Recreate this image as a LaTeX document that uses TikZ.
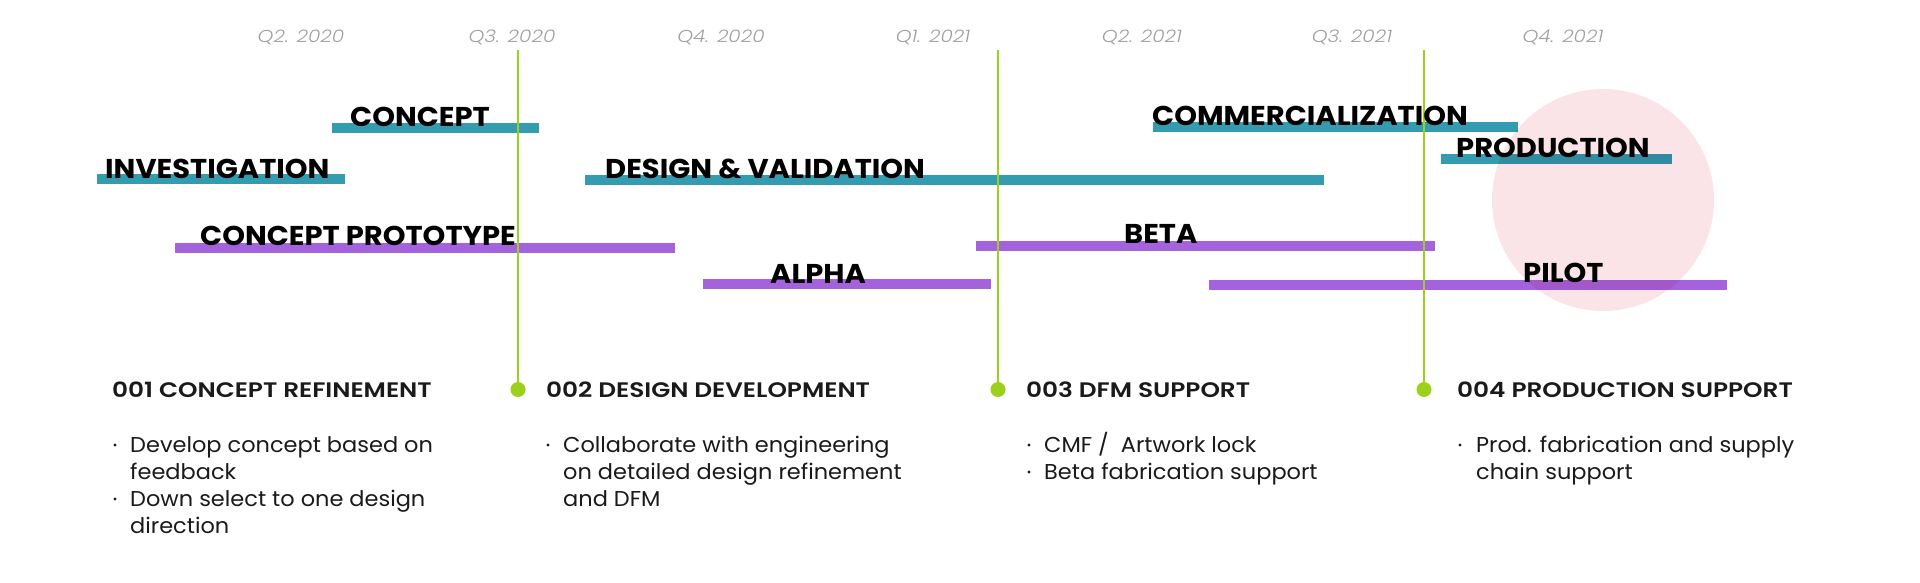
\documentclass[tikz,border=0pt]{standalone}
\usepackage{fontspec}
\setmainfont{Poppins}
\newfontfamily\qfont{Poppins Light Italic}[FakeStretch=1.16]
\newfontfamily\semib{Poppins SemiBold}[FakeStretch=1.18]
\newfontfamily\boldf{Poppins Bold}[FakeStretch=1.065]
\newfontfamily\bodyf{Poppins}[FakeStretch=1.045]
\definecolor{tealbar}{HTML}{339CB0}
\definecolor{purplebar}{HTML}{A463DD}
\definecolor{limeg}{HTML}{9BD11C}
\definecolor{pinkc}{HTML}{FBE4E8}
\definecolor{qgray}{HTML}{A0A0A0}
\definecolor{bodyc}{HTML}{1A1A1A}
\tikzset{
  barA/.style={line width=10pt, draw=tealbar},
  barB/.style={line width=10pt, draw=purplebar},
  barlabel/.style={anchor=base west, inner sep=0pt, font=\boldf\fontsize{27.2}{27}\selectfont, text=black},
  qlabel/.style={anchor=base, inner sep=0pt, font=\qfont\fontsize{17.3}{17}\selectfont, text=qgray},
  mstone/.style={line width=2pt, draw=limeg},
  mdot/.style={circle, fill=limeg, inner sep=0pt, minimum size=15pt},
  head/.style={anchor=base west, inner sep=0pt, font=\semib\fontsize{21}{21}\selectfont, text=bodyc},
  body/.style={anchor=base west, inner sep=0pt, font=\bodyf\fontsize{21.5}{27}\selectfont, text=bodyc},
  bul/.style={circle, fill=bodyc, inner sep=0pt, minimum size=3.2pt},
}
\begin{document}
\begin{tikzpicture}[x=1pt,y=-1pt]
\useasboundingbox (0,0) rectangle (1920,582);
% quarter labels
\node[qlabel] (q1) at (301,42) {Q2. 2020};
\node[qlabel] (q2) at (512,42) {Q3. 2020};
\node[qlabel] (q3) at (721,42) {Q4. 2020};
\node[qlabel] (q4) at (933,42) {Q1. 2021};
\node[qlabel] (q5) at (1142,42) {Q2. 2021};
\node[qlabel] (q6) at (1352,42) {Q3. 2021};
\node[qlabel] (q7) at (1563,42) {Q4. 2021};
% bars
\coordinate (a1) at (332,128); \coordinate (a2) at (539,128);
\coordinate (b1) at (97,179); \coordinate (b2) at (345,179);
\coordinate (c1) at (585,180); \coordinate (c2) at (1324,180);
\coordinate (d1) at (175,247.5); \coordinate (d2) at (675,247.5);
\coordinate (e1) at (703,284); \coordinate (e2) at (991,284);
\coordinate (f1) at (1153,127); \coordinate (f2) at (1518,127);
\coordinate (g1) at (1441,159); \coordinate (g2) at (1672,159);
\coordinate (h1) at (976,246); \coordinate (h2) at (1435,246);
\coordinate (i1) at (1209,285); \coordinate (i2) at (1727,285);
\draw[barA] (a1) -- (a2);
\draw[barA] (b1) -- (b2);
\draw[barA] (c1) -- (c2);
\draw[barB] (d1) -- (d2);
\draw[barB] (e1) -- (e2);
\draw[barA] (f1) -- (f2);
\draw[barA] (g1) -- (g2);
\draw[barB] (h1) -- (h2);
\draw[barB] (i1) -- (i2);
% milestones
\node[mdot] (m1) at (518,389.5) {};
\node[mdot] (m2) at (998,389.5) {};
\node[mdot] (m3) at (1424,389.5) {};
\coordinate (t1) at (518,50); \coordinate (t2) at (998,50); \coordinate (t3) at (1424,50);
\draw[mstone] (t1) -- (m1.center);
\draw[mstone] (t2) -- (m2.center);
\draw[mstone] (t3) -- (m3.center);
% bar labels
\node[barlabel] (la) at (350,126) {CONCEPT};
\node[barlabel] (lb) at (105,178) {INVESTIGATION};
\node[barlabel] (lc) at (605,178) {DESIGN \& VALIDATION};
\node[barlabel] (ld) at (200,245) {CONCEPT PROTOTYPE};
\node[barlabel] (le) at (770,283) {ALPHA};
\node[barlabel] (lf) at (1152,125) {COMMERCIALIZATION};
\node[barlabel] (lg) at (1456,157) {PRODUCTION};
\node[barlabel] (lh) at (1124,243) {BETA};
\node[barlabel] (li) at (1523,282) {PILOT};
% pink circle
\fill[pinkc, blend mode=multiply] (1603,200) circle[radius=111pt];
% headings
\node[head] (h001) at (112,397) {001 CONCEPT REFINEMENT};
\node[head] (h002) at (546,397) {002 DESIGN DEVELOPMENT};
\node[head] (h003) at (1026,397) {003 DFM SUPPORT};
\node[head] (h004) at (1457,397) {004 PRODUCTION SUPPORT};
% column 1
\node[bul] (b11) at (115,445) {};
\node[body] (t11) at (130,452) {Develop concept based on};
\node[body] (t12) at (130,479) {feedback};
\node[bul] (b12) at (115,499) {};
\node[body] (t13) at (130,506) {Down select to one design};
\node[body] (t14) at (130,533) {direction};
% column 2
\node[bul] (b21) at (548,445) {};
\node[body] (t21) at (563,452) {Collaborate with engineering};
\node[body] (t22) at (563,479) {on detailed design refinement};
\node[body] (t23) at (563,506) {and DFM};
% column 3
\node[bul] (b31) at (1029,445) {};
\node[body] (t31) at (1044,452) {CMF /\ \ Artwork lock};
\node[bul] (b32) at (1029,472) {};
\node[body] (t32) at (1044,479) {Beta fabrication support};
% column 4
\node[bul] (b41) at (1460,445) {};
\node[body] (t41) at (1476,452) {Prod. fabrication and supply};
\node[body] (t42) at (1476,479) {chain support};
\end{tikzpicture}
\end{document}
